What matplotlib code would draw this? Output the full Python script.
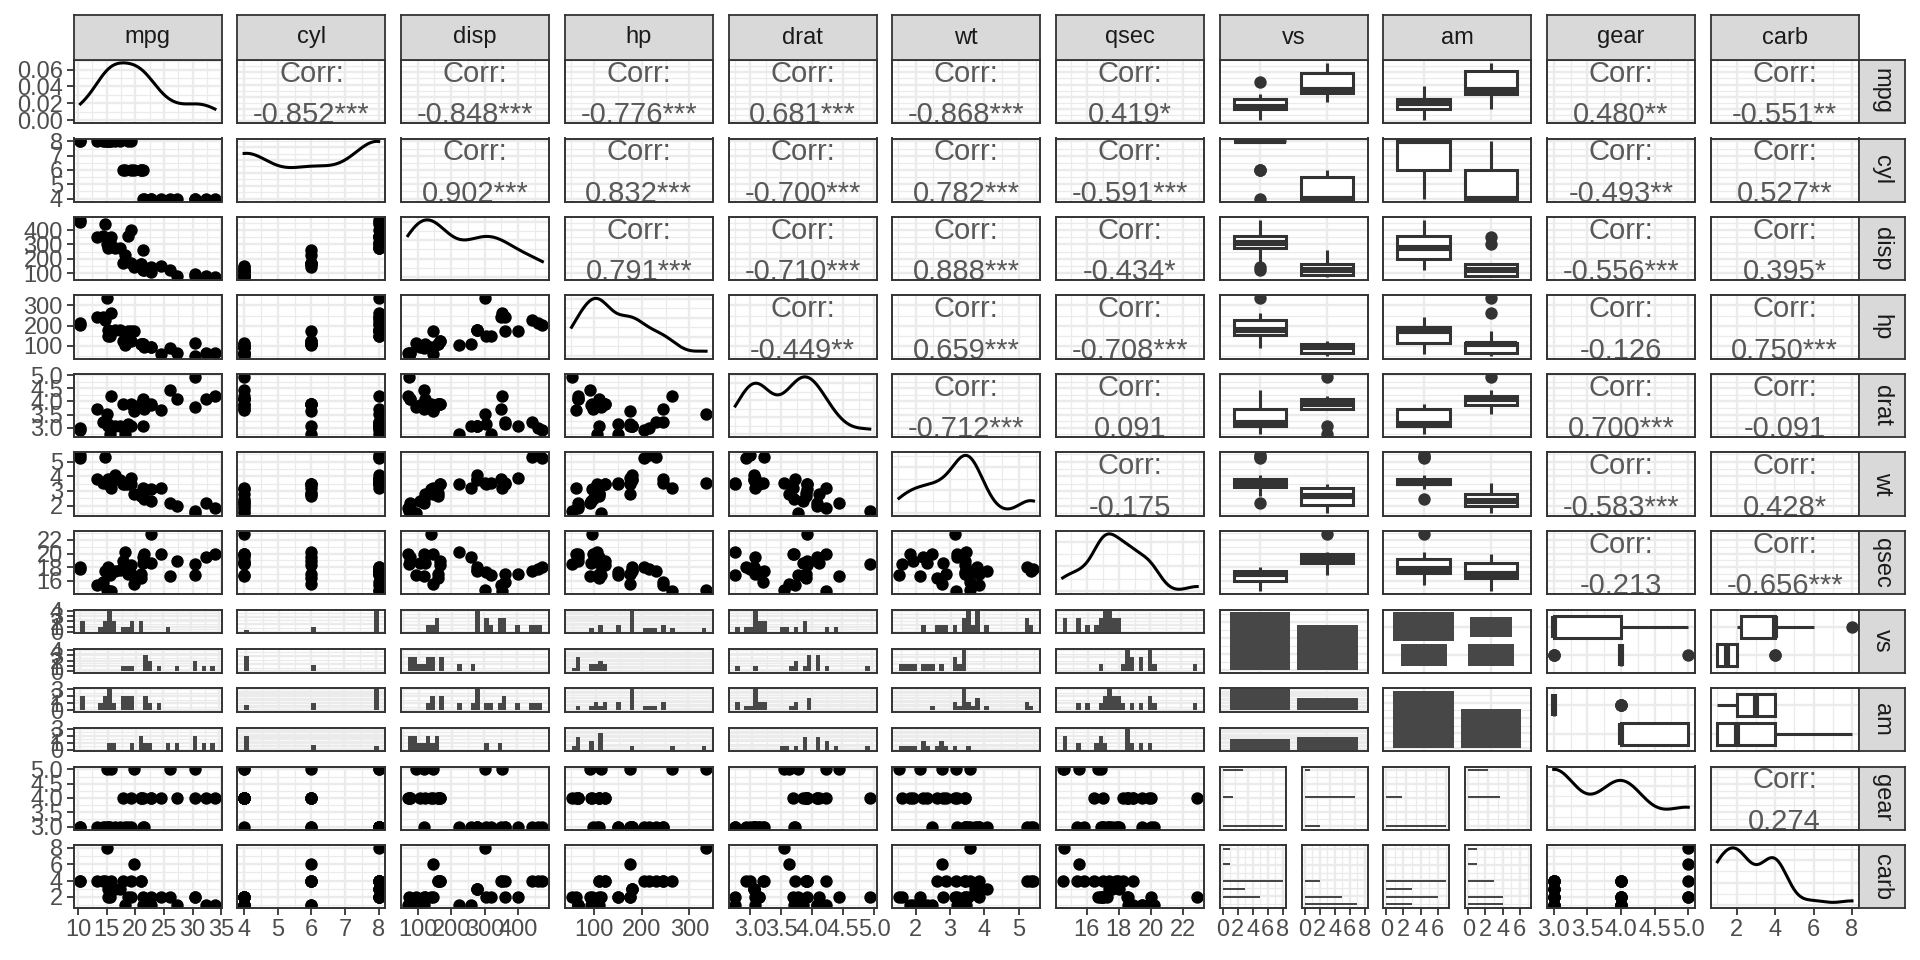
import math
import numpy as np
import matplotlib
matplotlib.use('Agg')
import matplotlib.pyplot as plt
from matplotlib.patches import Rectangle
from matplotlib.ticker import MaxNLocator

plt.rcParams['font.family'] = ['Liberation Sans', 'DejaVu Sans']

# ---------------- data (mtcars) ----------------
mpg = [21.0, 21.0, 22.8, 21.4, 18.7, 18.1, 14.3, 24.4, 22.8, 19.2, 17.8, 16.4, 17.3, 15.2, 10.4, 10.4,
       14.7, 32.4, 30.4, 33.9, 21.5, 15.5, 15.2, 13.3, 19.2, 27.3, 26.0, 30.4, 15.8, 19.7, 15.0, 21.4]
cyl = [6, 6, 4, 6, 8, 6, 8, 4, 4, 6, 6, 8, 8, 8, 8, 8, 8, 4, 4, 4, 4, 8, 8, 8, 8, 4, 4, 4, 8, 6, 8, 4]
disp = [160, 160, 108, 258, 360, 225, 360, 146.7, 140.8, 167.6, 167.6, 275.8, 275.8, 275.8, 472, 460,
        440, 78.7, 75.7, 71.1, 120.1, 318, 304, 350, 400, 79, 120.3, 95.1, 351, 145, 301, 121]
hp = [110, 110, 93, 110, 175, 105, 245, 62, 95, 123, 123, 180, 180, 180, 205, 215, 230, 66, 52, 65, 97,
      150, 150, 245, 175, 66, 91, 113, 264, 175, 335, 109]
drat = [3.90, 3.90, 3.85, 3.08, 3.15, 2.76, 3.21, 3.69, 3.92, 3.92, 3.92, 3.07, 3.07, 3.07, 2.93, 3.00,
        3.23, 4.08, 4.93, 4.22, 3.70, 2.76, 3.15, 3.73, 3.08, 4.08, 4.43, 3.77, 4.22, 3.62, 3.54, 4.11]
wt = [2.620, 2.875, 2.320, 3.215, 3.440, 3.460, 3.570, 3.190, 3.150, 3.440, 3.440, 4.070, 3.730, 3.780,
      5.250, 5.424, 5.345, 2.200, 1.615, 1.835, 2.465, 3.520, 3.435, 3.840, 3.845, 1.935, 2.140, 1.513,
      3.170, 2.770, 3.570, 2.780]
qsec = [16.46, 17.02, 18.61, 19.44, 17.02, 20.22, 15.84, 20.00, 22.90, 18.30, 18.90, 17.40, 17.60, 18.00,
        17.98, 17.82, 17.42, 19.47, 18.52, 19.90, 20.01, 16.87, 17.30, 15.41, 17.05, 18.90, 16.70, 16.90,
        14.50, 15.50, 14.60, 18.60]
vs = [0, 0, 1, 1, 0, 1, 0, 1, 1, 1, 1, 0, 0, 0, 0, 0, 0, 1, 1, 1, 1, 0, 0, 0, 0, 1, 0, 1, 0, 0, 0, 1]
am = [1, 1, 1, 0, 0, 0, 0, 0, 0, 0, 0, 0, 0, 0, 0, 0, 0, 1, 1, 1, 0, 0, 0, 0, 0, 1, 1, 1, 1, 1, 1, 1]
gear = [4, 4, 4, 3, 3, 3, 3, 4, 4, 4, 4, 3, 3, 3, 3, 3, 3, 4, 4, 4, 3, 3, 3, 3, 3, 4, 5, 5, 5, 5, 5, 4]
carb = [4, 4, 1, 1, 2, 1, 4, 2, 2, 4, 4, 3, 3, 3, 4, 4, 4, 1, 2, 1, 1, 2, 2, 4, 2, 1, 2, 2, 4, 6, 8, 2]

var_names = ['mpg', 'cyl', 'disp', 'hp', 'drat', 'wt', 'qsec', 'vs', 'am', 'gear', 'carb']
discrete_vars = ['vs', 'am']
levels = [0, 1]
axis_breaks = {
    'mpg': [10, 15, 20, 25, 30, 35],
    'cyl': [4, 5, 6, 7, 8],
    'disp': [100, 200, 300, 400],
    'hp': [100, 200, 300],
    'drat': [3.0, 3.5, 4.0, 4.5, 5.0],
    'wt': [2, 3, 4, 5],
    'qsec': [16, 18, 20, 22],
    'gear': [3.0, 3.5, 4.0, 4.5, 5.0],
    'carb': [2, 4, 6, 8],
}

data = {n: np.array(v, dtype=float) for n, v in zip(
    var_names, [mpg, cyl, disp, hp, drat, wt, qsec, vs, am, gear, carb])}

# ---------------- layout / style ----------------
FW, FH = 1920, 960
COL_L, COL_P, CW = 73.7, 163.7, 148.0
ROW_T, ROW_P, RH = 60.0, 78.5, 63.0
GAP = 16.0
GRID = '#EBEBEB'
DARK = '#333333'
BAR = '#474747'
TXT = '#4D4D4D'
TICK_FS = 17
STRIP_FS = 17
CORR_FS = 21
PT_S = 80

fig = plt.figure(figsize=(19.2, 9.6), dpi=100)


def add_ax(l, t, w, h):
    return fig.add_axes([l / FW, 1 - (t + h) / FH, w / FW, h / FH])


def auto_breaks(lim, nb=5, integer=False):
    b = MaxNLocator(nbins=nb, steps=[1, 2, 2.5, 5, 10], integer=integer).tick_values(*lim)
    return [x for x in b if lim[0] - 1e-9 <= x <= lim[1] + 1e-9]


def minor_of(breaks, lim):
    if len(breaks) < 2:
        return []
    s = breaks[1] - breaks[0]
    m = np.arange(breaks[0] - s / 2, breaks[-1] + s, s)
    return [x for x in m if lim[0] <= x <= lim[1]]


def fmt(breaks):
    dec = 0
    for b in breaks:
        s = ('%.6f' % b).rstrip('0').rstrip('.')
        if '.' in s:
            dec = max(dec, len(s.split('.')[1]))
    return [f'{b:.{dec}f}' for b in breaks]


def expand(lo, hi):
    r = hi - lo
    return (lo - 0.05 * r, hi + 0.05 * r)


def setup(ax, xlim, xb, ylim, yb, xminor=True, yminor=True):
    ax.set_xlim(xlim)
    ax.set_ylim(ylim)
    ax.set_xticks(xb)
    ax.set_yticks(yb)
    ax.set_xticks(minor_of(xb, xlim) if xminor else [], minor=True)
    ax.set_yticks(minor_of(yb, ylim) if yminor else [], minor=True)
    ax.set_xticklabels(fmt(xb))
    ax.set_yticklabels(fmt(yb))
    ax.grid(which='major', color=GRID, lw=1.7)
    ax.grid(which='minor', color=GRID, lw=0.9)
    ax.set_axisbelow(True)
    ax.set_facecolor('white')
    for s in ax.spines.values():
        s.set_color(DARK)
        s.set_linewidth(1.4)
        s.set_zorder(6)
    ax.tick_params(which='both', length=0, labelbottom=False, labelleft=False)


def show_x(ax):
    ax.tick_params(axis='x', which='major', length=4.8, width=1.3, color=DARK, labelbottom=True,
                   labelsize=TICK_FS, labelcolor=TXT, pad=3.0)


def show_y(ax):
    ax.tick_params(axis='y', which='major', length=4.8, width=1.3, color=DARK, labelleft=True,
                   labelsize=TICK_FS, labelcolor=TXT, pad=3.0)


def cont_scale(name):
    v = data[name]
    lim = expand(v.min(), v.max())
    return lim, axis_breaks[name]


def kde(v):
    n = len(v)
    sd = np.std(v, ddof=1)
    q1, q3 = np.percentile(v, [25, 75])
    bw = 0.9 * min(sd, (q3 - q1) / 1.34) * n ** -0.2
    xs = np.linspace(v.min(), v.max(), 512)
    ys = np.exp(-0.5 * ((xs[:, None] - v[None, :]) / bw) ** 2).sum(axis=1) / (n * bw * math.sqrt(2 * math.pi))
    return xs, ys


def hist_bins(v):
    lo, hi = v.min(), v.max()
    w = (hi - lo) / 29
    edges = lo - w / 2 + w * np.arange(31)
    return edges, w


def tpval(r, n):
    df = n - 2
    t = abs(r) * math.sqrt(df / (1 - r * r))
    c = math.exp(math.lgamma((df + 1) / 2) - math.lgamma(df / 2)) / math.sqrt(df * math.pi)
    xs = np.linspace(t, t + 300, 300001)
    pdf = c * (1 + xs ** 2 / df) ** (-(df + 1) / 2)
    return 2 * np.trapezoid(pdf, xs)


def stars(p):
    if p < 0.001:
        return '***'
    if p < 0.01:
        return '**'
    if p < 0.05:
        return '*'
    if p < 0.1:
        return '.'
    return ''


def boxstats(v):
    q1, med, q3 = np.percentile(v, [25, 50, 75])
    iqr = q3 - q1
    lo_f, hi_f = q1 - 1.5 * iqr, q3 + 1.5 * iqr
    inside = v[(v >= lo_f) & (v <= hi_f)]
    out = v[(v < lo_f) | (v > hi_f)]
    return q1, med, q3, inside.min(), inside.max(), out


def draw_box(ax, pos, v, vertical=True, width=0.78):
    q1, med, q3, lo, hi, out = boxstats(v)
    if vertical:
        ax.add_patch(Rectangle((pos - width / 2, q1), width, q3 - q1, fc='white', ec=DARK, lw=2.2, zorder=3))
        ax.plot([pos, pos], [q3, hi], color=DARK, lw=2.2, zorder=2, solid_capstyle='butt')
        ax.plot([pos, pos], [q1, lo], color=DARK, lw=2.2, zorder=2, solid_capstyle='butt')
        ax.plot([pos - width / 2, pos + width / 2], [med, med], color=DARK, lw=4.4, zorder=4,
                solid_capstyle='butt')
        if len(out):
            ax.scatter(np.full(len(out), pos), out, s=PT_S, color=DARK, lw=0, zorder=4)
    else:
        ax.add_patch(Rectangle((q1, pos - width / 2), q3 - q1, width, fc='white', ec=DARK, lw=2.2, zorder=3))
        ax.plot([q3, hi], [pos, pos], color=DARK, lw=2.2, zorder=2, solid_capstyle='butt')
        ax.plot([q1, lo], [pos, pos], color=DARK, lw=2.2, zorder=2, solid_capstyle='butt')
        ax.plot([med, med], [pos - width / 2, pos + width / 2], color=DARK, lw=4.4, zorder=4,
                solid_capstyle='butt')
        if len(out):
            ax.scatter(out, np.full(len(out), pos), s=PT_S, color=DARK, lw=0, zorder=4)


DLIM = (0.4, 2.6)
DB = [1, 2]
n_obs = len(mpg)

for i, rv in enumerate(var_names):
    for j, cv in enumerate(var_names):
        l = COL_L + j * COL_P
        t = ROW_T + i * ROW_P
        rdisc = rv in discrete_vars
        cdisc = cv in discrete_vars
        bottom = (i == len(var_names) - 1)
        left = (j == 0)
        y = data[rv]
        x = data[cv]

        if i == j:
            ax = add_ax(l, t, CW, RH)
            if not rdisc:
                xs, ys = kde(x)
                xlim, xb = cont_scale(cv)
                ylim = expand(0, ys.max())
                setup(ax, xlim, xb, ylim, auto_breaks(ylim))
                ax.plot(xs, ys, color='black', lw=2.2, zorder=3)
            else:
                cnts = [np.sum(x == lv) for lv in levels]
                ylim = expand(0, max(cnts))
                setup(ax, DLIM, DB, ylim, auto_breaks(ylim), xminor=False)
                ax.bar([1, 2], cnts, width=0.9, color=BAR, zorder=3)
            if left:
                show_y(ax)
            if bottom:
                show_x(ax)

        elif i < j:
            ax = add_ax(l, t, CW, RH)
            if not rdisc and not cdisc:
                xlim, xb = cont_scale(cv)
                ylim, yb = cont_scale(rv)
                setup(ax, xlim, xb, ylim, yb)
                r = np.corrcoef(x, y)[0, 1]
                lab = f'{r:.3f}{stars(tpval(r, n_obs))}'
                ax.text(0.5, 0.655, 'Corr:', transform=ax.transAxes, ha='center', va='baseline',
                        fontsize=CORR_FS, color='#595959', clip_on=True, zorder=5)
                ax.text(0.5, -0.005, lab, transform=ax.transAxes, ha='center', va='baseline',
                        fontsize=CORR_FS, color='#595959', clip_on=True, zorder=5)
            elif not rdisc and cdisc:
                ylim, yb = cont_scale(rv)
                setup(ax, DLIM, DB, ylim, yb, xminor=False)
                for k, lv in enumerate(levels):
                    draw_box(ax, k + 1, y[x == lv], vertical=True)
            elif rdisc and cdisc:
                setup(ax, DLIM, DB, DLIM, DB, xminor=False, yminor=False)
                cmax = max(np.sum((y == a) & (x == b)) for a in levels for b in levels)
                for a in levels:
                    for b in levels:
                        c = np.sum((y == a) & (x == b))
                        f = math.sqrt(c / cmax)
                        px = b + 1
                        py = 2 - a
                        wx, wy = 0.9 * f, 1.0 * f
                        ax.add_patch(Rectangle((px - wx / 2, py - wy / 2), wx, wy, fc=BAR, ec='none', zorder=3))
            else:
                xlim, xb = cont_scale(cv)
                setup(ax, xlim, xb, DLIM, DB, yminor=False)
                for lv in levels:
                    draw_box(ax, 2 - lv, x[y == lv], vertical=False)
            if left:
                show_y(ax)
            if bottom:
                show_x(ax)

        else:
            if not rdisc and not cdisc:
                ax = add_ax(l, t, CW, RH)
                xlim, xb = cont_scale(cv)
                ylim, yb = cont_scale(rv)
                setup(ax, xlim, xb, ylim, yb)
                ax.scatter(x, y, s=PT_S, color='black', lw=0, zorder=3)
                if left:
                    show_y(ax)
                if bottom:
                    show_x(ax)
            elif rdisc and not cdisc:
                edges, w = hist_bins(x)
                cnts = [np.histogram(x[y == lv], edges)[0] for lv in levels]
                ylim = expand(0, max(c.max() for c in cnts))
                xlim = expand(edges[0], edges[-1])
                xb = axis_breaks[cv]
                sh = (RH - GAP) / 2
                for k, lv in enumerate(levels):
                    ax = add_ax(l, t + k * (sh + GAP), CW, sh)
                    setup(ax, xlim, xb, ylim, auto_breaks(ylim, nb=7, integer=True))
                    centers = (edges[:-1] + edges[1:]) / 2
                    ax.bar(centers, cnts[k], width=w, color=BAR, zorder=3)
                    if left:
                        show_y(ax)
            elif rdisc and cdisc:
                cnts = [[np.sum((y == a) & (x == b)) for b in levels] for a in levels]
                ylim = expand(0, max(max(c) for c in cnts))
                sh = (RH - GAP) / 2
                for k, a in enumerate(levels):
                    ax = add_ax(l, t + k * (sh + GAP), CW, sh)
                    setup(ax, DLIM, DB, ylim, auto_breaks(ylim, nb=7, integer=True), xminor=False)
                    ax.bar([1, 2], cnts[k], width=0.9, color=BAR, zorder=3)
            else:
                edges, w = hist_bins(y)
                cnts = [np.histogram(y[x == lv], edges)[0] for lv in levels]
                xlim = expand(0, max(c.max() for c in cnts))
                ylim = expand(edges[0], edges[-1])
                yb = axis_breaks[rv]
                sw = (CW - GAP) / 2
                for k, lv in enumerate(levels):
                    ax = add_ax(l + k * (sw + GAP), t, sw, RH)
                    setup(ax, xlim, auto_breaks(xlim), ylim, yb)
                    centers = (edges[:-1] + edges[1:]) / 2
                    ax.barh(centers, cnts[k], height=w, color=BAR, zorder=3)
                    if bottom:
                        show_x(ax)

# ---------------- strips ----------------
def strip(l, t, w, h, text, rot=0):
    ax = add_ax(l, t, w, h)
    ax.set_facecolor('#D9D9D9')
    ax.set_xticks([])
    ax.set_yticks([])
    for s in ax.spines.values():
        s.set_color(DARK)
        s.set_linewidth(1.3)
    ax.text(0.5, 0.5, text, transform=ax.transAxes, ha='center', va='center', rotation=rot,
            fontsize=STRIP_FS, color='#1A1A1A')


for j, cv in enumerate(var_names):
    strip(COL_L + j * COL_P, 15, CW, ROW_T - 15, cv)
right_x = COL_L + (len(var_names) - 1) * COL_P + CW
for i, rv in enumerate(var_names):
    strip(right_x, ROW_T + i * ROW_P, 46, RH, rv, rot=-90)

fig.savefig('out.png', dpi=100, facecolor='white')
